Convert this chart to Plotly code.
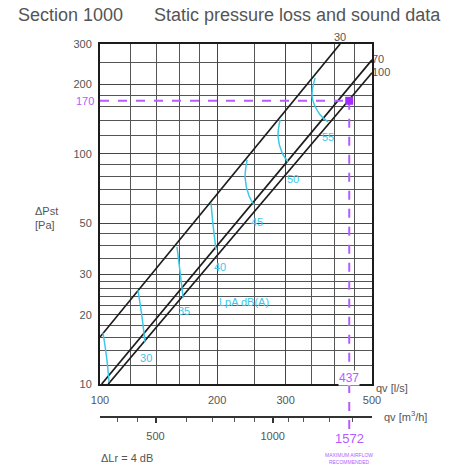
import math
import plotly.graph_objects as go

# ---------------- data ----------------
X_TICKS = [100, 200, 300, 500]
X_MINOR = [120, 140, 160, 180, 250, 350, 400, 450]
Y_TICKS = [10, 20, 30, 50, 100, 200, 300]
Y_MINOR = [12, 14, 16, 18, 22, 24, 26, 28, 35, 40, 45, 60, 70, 80, 90,
           120, 140, 160, 180, 250]
M3H_TICKS = [500, 1000]
M3H_MINOR = [400, 450, 600, 700, 800, 900, 1100, 1200, 1400, 1600]

damper_names = ["30", "70", "100"]
damper_q = [[100, 414], [101, 500], [105, 500]]
damper_p = [[16.0, 300], [10, 256], [10, 225]]
damper_textpos = ["top center", "middle right", "middle right"]

lpa_levels = ["30", "35", "40", "45", "50", "55"]
lpa_q = [
    [101.8, 104.2, 105.5],
    [125.2, 128.2, 130.5],
    [157.7, 160.6, 163.5],
    [192.9, 195.2, 198.7],
    [238.8, 236.0, 241.6, 248.9],
    [290.2, 286.8, 293.8, 304.0],
    [357.1, 350.8, 367.8, 385.5],
]
lpa_p = [
    [16.7, 12.7, 10.2],
    [25.6, 19.6, 15.2],
    [39.4, 30.7, 23.7],
    [61.2, 49.1, 38.2],
    [94.2, 78.6, 65.6, 60.0],
    [140.6, 118.6, 101.0, 92.3],
    [213.8, 177.0, 147.8, 137.7],
]
lpa_label_q = [131.4, 164.4, 203.5, 253.3, 313.5, 385.5]
lpa_label_p = [12.8, 20.4, 31.9, 50.1, 77.1, 117.4]
lpa_title_q, lpa_title_p = 234.5, 22.5

Q_MAX = 437        # l/s
P_MAX = 170        # Pa
M3H_MAX = 1572     # m3/h

# ---------------- styling ----------------
W, H = 453, 470
ML, MR, MT, MB = 100, 81, 44, 53
PH = H - MT - MB
PW = W - ML - MR
PLOT_BOTTOM = 384


def py(ypx):
    return (H - MB - ypx) / PH


def px(xpx):
    return (xpx - ML) / PW


GRAY = "#555555"
BLACK = "#1c1c1c"
CYAN = "#3cc8e8"
VIOLET = "#b45cff"
VIOLET_D = "#a32cff"
FONT = "Liberation Sans, Arial, sans-serif"

fig = go.Figure()

# damper lines
for name, q, p, tp in zip(damper_names, damper_q, damper_p, damper_textpos):
    fig.add_trace(go.Scatter(x=q, y=p, mode="lines",
                             line=dict(color=BLACK, width=1.7),
                             hoverinfo="skip", showlegend=False))
    fig.add_trace(go.Scatter(x=[q[-1]], y=[p[-1]], mode="text", text=[name],
                             textposition=tp, cliponaxis=False,
                             textfont=dict(color=GRAY, size=11, family=FONT),
                             hoverinfo="skip", showlegend=False))

# sound level curves
for q, p in zip(lpa_q, lpa_p):
    fig.add_trace(go.Scatter(x=q, y=p, mode="lines",
                             line=dict(color=CYAN, width=1.5, shape="spline"),
                             hoverinfo="skip", showlegend=False))
fig.add_trace(go.Scatter(x=lpa_label_q, y=lpa_label_p, mode="text",
                         text=lpa_levels, textfont=dict(color=CYAN, size=11, family=FONT),
                         hoverinfo="skip", showlegend=False))
fig.add_trace(go.Scatter(x=[lpa_title_q], y=[lpa_title_p], mode="text",
                         text=["LpA dB(A)"], textfont=dict(color=CYAN, size=11, family=FONT),
                         hoverinfo="skip", showlegend=False))

# operating point
fig.add_trace(go.Scatter(x=[X_TICKS[0], Q_MAX], y=[P_MAX, P_MAX], mode="lines",
                         line=dict(color=VIOLET, width=2, dash="dash"),
                         hoverinfo="skip", showlegend=False))
fig.add_trace(go.Scatter(x=[Q_MAX, Q_MAX], y=[P_MAX, Y_TICKS[0]], mode="lines",
                         line=dict(color=VIOLET, width=2, dash="dash"),
                         hoverinfo="skip", showlegend=False))
fig.add_trace(go.Scatter(x=[Q_MAX], y=[P_MAX], mode="markers",
                         marker=dict(symbol="square", size=8, color=VIOLET_D),
                         hoverinfo="skip", showlegend=False))

# dummy trace for the m3/h axis
fig.add_trace(go.Scatter(x=M3H_TICKS, y=[Y_TICKS[0]] * len(M3H_TICKS), xaxis="x2", yaxis="y",
                         mode="markers", marker=dict(opacity=0, size=1),
                         hoverinfo="skip", showlegend=False))

# vertical extension below the chart
fig.add_shape(type="line", xref="x", yref="paper", x0=Q_MAX, x1=Q_MAX,
              y0=py(PLOT_BOTTOM), y1=py(452),
              line=dict(color=VIOLET, width=2, dash="dash"))

ann = []
ann.append(dict(text="Section 1000", xref="paper", yref="paper", x=px(16), y=py(15),
                xanchor="left", yanchor="middle", showarrow=False,
                font=dict(size=18, color=GRAY, family=FONT)))
ann.append(dict(text="Static pressure loss and sound data", xref="paper", yref="paper",
                x=px(152), y=py(15), xanchor="left", yanchor="middle", showarrow=False,
                font=dict(size=18, color=GRAY, family=FONT)))
ann.append(dict(text="ΔPst<br>[Pa]", xref="paper", yref="paper", x=px(46), y=py(218),
                xanchor="center", yanchor="middle", showarrow=False, align="left",
                font=dict(size=11, color=GRAY, family=FONT)))
ann.append(dict(text=str(P_MAX), xref="paper", yref="y", x=px(96), y=math.log10(P_MAX),
                xanchor="right", yanchor="middle", showarrow=False,
                font=dict(size=11, color=VIOLET, family=FONT)))
ann.append(dict(text=str(Q_MAX), xref="x", yref="paper", x=math.log10(Q_MAX), y=py(378),
                xanchor="center", yanchor="middle", showarrow=False, bgcolor="white",
                borderpad=0, font=dict(size=12, color=VIOLET, family=FONT)))
ann.append(dict(text=str(M3H_MAX), xref="x", yref="paper", x=math.log10(Q_MAX), y=py(438),
                xanchor="center", yanchor="middle", showarrow=False, bgcolor="white",
                borderpad=0, font=dict(size=13, color=VIOLET, family=FONT)))
ann.append(dict(text="MAXIMUM AIRFLOW<br>RECOMMENDED", xref="x", yref="paper",
                x=math.log10(Q_MAX), y=py(458), xanchor="center", yanchor="middle",
                showarrow=False, bgcolor="white", borderpad=0,
                font=dict(size=5, color=VIOLET, family=FONT)))
ann.append(dict(text="qv [l/s]", xref="paper", yref="paper", x=px(374), y=py(388),
                xanchor="left", yanchor="middle", showarrow=False,
                font=dict(size=11, color=GRAY, family=FONT)))
ann.append(dict(text="qv [m<sup>3</sup>/h]", xref="paper", yref="paper", x=px(382), y=py(416),
                xanchor="left", yanchor="middle", showarrow=False,
                font=dict(size=11, color=GRAY, family=FONT)))
ann.append(dict(text="ΔLr = 4 dB", xref="paper", yref="paper", x=px(99), y=py(458),
                xanchor="left", yanchor="middle", showarrow=False,
                font=dict(size=11, color=GRAY, family=FONT)))

fig.update_layout(
    width=W, height=H,
    margin=dict(l=ML, r=MR, t=MT, b=MB),
    paper_bgcolor="white", plot_bgcolor="white",
    showlegend=False,
    annotations=ann,
    xaxis=dict(type="log", range=[math.log10(X_TICKS[0]), math.log10(X_TICKS[-1])],
               tickmode="array", tickvals=X_TICKS, ticktext=[str(v) for v in X_TICKS],
               showgrid=True, gridcolor="#444444", gridwidth=1.3,
               minor=dict(tickvals=X_MINOR, showgrid=True, gridcolor="#555555", gridwidth=1),
               showline=True, mirror=True, linecolor=BLACK, linewidth=2,
               ticks="", ticklabelstandoff=5, zeroline=False,
               tickfont=dict(size=11, color=GRAY, family=FONT)),
    yaxis=dict(type="log", range=[math.log10(Y_TICKS[0]), math.log10(Y_TICKS[-1])],
               domain=[py(PLOT_BOTTOM), 1],
               tickmode="array", tickvals=Y_TICKS, ticktext=[str(v) for v in Y_TICKS],
               showgrid=True, gridcolor="#444444", gridwidth=1.3,
               minor=dict(tickvals=Y_MINOR, showgrid=True, gridcolor="#555555", gridwidth=1),
               showline=True, mirror=True, linecolor=BLACK, linewidth=2,
               ticks="", ticklabelstandoff=4, zeroline=False,
               tickfont=dict(size=11, color=GRAY, family=FONT)),
    xaxis2=dict(type="log", overlaying="x", anchor="free", position=0, side="bottom",
                range=[math.log10(X_TICKS[0] * 3.6), math.log10(X_TICKS[-1] * 3.6)],
                tickmode="array", tickvals=M3H_TICKS, ticktext=[str(v) for v in M3H_TICKS],
                showgrid=False, showline=True, linecolor="#333333", linewidth=1.5,
                ticks="outside", ticklen=5, tickwidth=1.5, tickcolor="#333333",
                minor=dict(tickvals=M3H_MINOR, ticks="outside", ticklen=4, tickwidth=1,
                           tickcolor="#555555", showgrid=False),
                ticklabelstandoff=4, zeroline=False,
                tickfont=dict(size=11, color=GRAY, family=FONT)),
)

fig.write_html("out.html",
               config={"displayModeBar": False},
               post_script="document.body.style.margin='0px';"
                           "document.body.style.overflow='hidden';")
